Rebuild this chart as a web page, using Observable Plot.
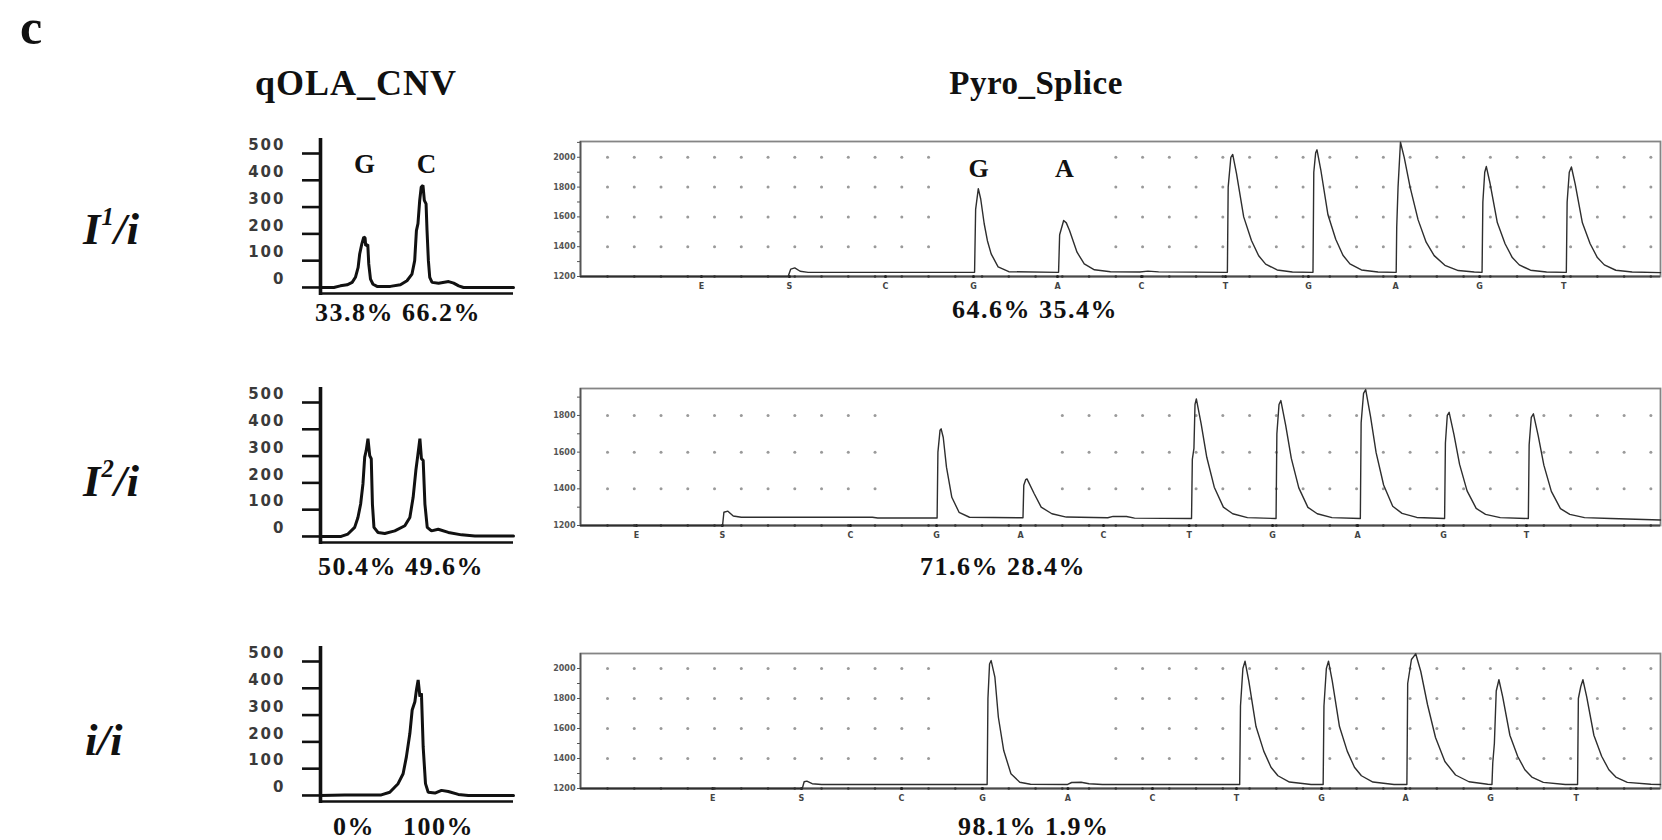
<!DOCTYPE html>
<html>
<head>
<meta charset="utf-8">
<script src="https://cdn.jsdelivr.net/npm/d3@7"></script>
<script src="https://cdn.jsdelivr.net/npm/@observablehq/plot@0.6"></script>
<style>
  html, body { margin: 0; padding: 0; background: #fff; }
  #fig { position: relative; width: 1662px; height: 840px; overflow: hidden; background: #fff;
         font-family: "Liberation Serif", "Times New Roman", serif; color: #111; }
  .abs { position: absolute; white-space: nowrap; line-height: 1; font-weight: bold; }
  .title { letter-spacing: 1px; transform: translateX(-50%); }
  .rowlab { font-size: 45px; font-style: italic; }
  .rowlab .sup { font-size: 0.55em; position: relative; top: -0.75em; margin-left: 1px; }
  .pct { font-size: 26px; letter-spacing: 1.5px; white-space: pre; }
  svg.qola text { letter-spacing: 2px; }
  svg.qola text.peaklab, svg.pyro text { letter-spacing: 0; }
</style>
</head>
<body>
<div id="fig"></div>
<script>
// ---------------- data ----------------
const panelLetter = "c";
const titles = ["qOLA_CNV", "Pyro_Splice"];
const genotypes = [["I", "1", "/i"], ["I", "2", "/i"], ["i", "", "/i"]];

// qOLA_CNV (capillary peaks), x = relative migration (0-100), y = signal
const qolaTicks = [0, 100, 200, 300, 400, 500];
const qolaYDomain = [-30, 556];
const qolaPeakLabels = [{base: "G", x: 23.3}, {base: "C", x: 55.4}];
const qolaTrace1 = [[0,0],[6.9,0],[10.3,6],[13.8,10],[16.4,19],[18.1,38],[19.5,75],[20.3,125],[21.4,162],[22.4,188],[23.1,185],[23.4,156],[24.5,160],[25,88],[25.9,31],[27.2,12],[29.3,4],[36.2,4],[41.4,10],[44.8,25],[47.4,50],[48.8,100],[49.7,212],[50.5,238],[51.4,325],[52.2,375],[53.1,381],[53.8,325],[54.7,312],[55.2,212],[55.9,100],[56.6,38],[57.8,19],[61.2,16],[66.4,22],[69,16],[71.6,6],[74.1,0],[100,0]];
const qolaTrace2 = [[0,0],[10.7,0],[14.2,9],[17.7,34],[19.4,71],[20.8,121],[22,196],[22.9,296],[23.7,321],[24.6,365],[25.5,302],[26.3,290],[26.9,121],[27.7,34],[29.8,15],[33.3,11],[38.5,21],[43.7,40],[46.3,71],[48,146],[49.4,246],[50.3,296],[51.5,365],[52.3,290],[53.2,284],[54.1,121],[55.3,34],[57.5,21],[61,27],[66.2,15],[73.1,6],[80,2],[100,2]];
const qolaTrace3 = [[0,0],[12.5,2],[31.5,2],[35.9,12],[40.2,44],[42.8,81],[44.5,144],[46.3,231],[47.5,319],[48.9,350],[49.7,394],[50.6,431],[51.5,369],[52.3,381],[53.2,181],[54.4,44],[55.8,12],[59.3,9],[62.7,19],[66.2,15],[71.4,4],[76.6,0],[100,0]];
const qolaPct = [["33.8%", "66.2%"], ["50.4%", "49.6%"], ["0%", "100%"]];

// Pyro_Splice (pyrograms), x = run time in grid steps, y = light signal
const pyroXDomain = [-1.01, 39.36];
const pyroDisp = ["E", "S", "C", "G", "A", "C", "T", "G", "A", "G", "T"];
const pyroDispPos1 = [3.51, 6.80, 10.39, 13.68, 16.82, 19.96, 23.10, 26.20, 29.46, 32.60, 35.74];
const pyroDispPos2 = [1.08, 4.29, 9.08, 12.30, 15.44, 18.54, 21.74, 24.86, 28.04, 31.25, 34.35];
const pyroDispPos3 = [3.93, 7.25, 10.99, 14.02, 17.21, 20.37, 23.51, 26.69, 29.83, 33.01, 36.21];
const pyroYTicks1 = [1200, 1400, 1600, 1800, 2000];
const pyroYTicks2 = [1200, 1400, 1600, 1800];
const pyroYTicks3 = [1200, 1400, 1600, 1800, 2000];
const pyroYMax = [2106, 1947, 2100];
const pyroGridGap = [[13, 18], [11, 16], [13, 18]];
const pyroPeakLabels = [{base: "G", x: 13.87}, {base: "A", x: 17.08}];
const pyroTrace1 = [[-1.01,1200],[6.75,1200],[6.85,1250],[7.0,1258],[7.2,1235],[7.5,1228],[13.72,1228],
 [13.76,1650],[13.86,1790],[13.95,1720],[14.08,1554],[14.2,1440],[14.34,1352],[14.6,1265],[15.0,1232],[16.86,1228],
 [16.9,1480],[17.05,1576],[17.15,1560],[17.27,1509],[17.55,1363],[17.82,1285],[18.2,1245],[18.8,1232],[19.9,1230],[20.2,1236],[20.6,1231],[23.17,1228],
 [23.2,1800],[23.3,2000],[23.37,2019],[23.51,1892],[23.78,1600],[24.07,1442],[24.34,1339],[24.6,1283],[25.03,1244],[25.6,1230],[26.37,1228],
 [26.4,1900],[26.47,2030],[26.52,2050],[26.66,1918],[26.93,1614],[27.22,1450],[27.49,1343],[27.75,1285],[28.18,1244],[28.8,1230],[29.48,1228],
 [29.5,1530],[29.55,1800],[29.64,2101],[29.78,2000],[30.0,1800],[30.3,1580],[30.6,1430],[30.9,1340],[31.3,1275],[31.8,1240],[32.4,1230],[32.69,1228],
 [32.72,1700],[32.79,1900],[32.85,1938],[32.99,1824],[33.26,1562],[33.55,1420],[33.82,1327],[34.08,1278],[34.5,1242],[35.1,1230],[35.84,1228],
 [35.87,1700],[35.95,1900],[36.03,1935],[36.17,1822],[36.44,1560],[36.73,1420],[37.0,1327],[37.26,1278],[37.69,1242],[38.3,1230],[39.36,1226]];
const pyroTrace2 = [[-1.01,1200],[4.3,1200],[4.35,1272],[4.5,1278],[4.7,1252],[5.0,1245],[9.9,1245],[10.1,1241],[12.32,1241],
 [12.35,1600],[12.43,1720],[12.47,1727],[12.55,1680],[12.67,1518],[12.87,1354],[13.14,1272],[13.53,1245],[15.53,1242],
 [15.56,1420],[15.63,1450],[15.68,1454],[15.95,1373],[16.21,1300],[16.61,1264],[17.15,1246],[18.7,1242],[18.9,1250],[19.4,1249],[19.7,1240],[21.83,1238],
 [21.86,1560],[21.92,1620],[21.96,1860],[22.01,1890],[22.19,1754],[22.4,1572],[22.68,1409],[23.02,1300],[23.37,1264],[23.92,1243],[24.99,1238],
 [25.02,1700],[25.1,1860],[25.17,1881],[25.35,1746],[25.56,1566],[25.84,1405],[26.18,1299],[26.53,1264],[27.08,1243],[28.14,1238],
 [28.17,1760],[28.26,1920],[28.34,1941],[28.52,1795],[28.73,1597],[29.01,1421],[29.35,1305],[29.7,1266],[30.25,1244],[31.29,1238],
 [31.32,1650],[31.39,1800],[31.46,1817],[31.64,1695],[31.85,1533],[32.13,1389],[32.47,1293],[32.82,1261],[33.37,1243],[34.42,1238],
 [34.45,1640],[34.53,1790],[34.61,1809],[34.79,1689],[35.0,1529],[35.28,1386],[35.62,1292],[35.97,1261],[36.52,1243],[37.5,1238],[39.36,1230]];
const pyroTrace3 = [[-1.01,1200],[7.28,1200],[7.35,1245],[7.45,1249],[7.65,1232],[8.0,1227],[14.19,1227],
 [14.22,1800],[14.28,2030],[14.34,2053],[14.48,1942],[14.61,1675],[14.81,1453],[15.08,1298],[15.41,1242],[15.81,1228],[17.2,1227],[17.35,1240],[17.7,1242],[18.0,1232],[18.5,1227],[23.63,1227],
 [23.66,1750],[23.75,2000],[23.83,2049],[23.97,1917],[24.24,1613],[24.53,1449],[24.8,1342],[25.06,1285],[25.49,1243],[26.3,1227],[26.75,1227],
 [26.78,1750],[26.87,2000],[26.95,2049],[27.09,1917],[27.36,1613],[27.65,1449],[27.92,1342],[28.18,1285],[28.61,1243],[29.4,1227],[29.88,1227],
 [29.91,1900],[30.05,2060],[30.21,2098],[30.4,1980],[30.65,1760],[30.95,1540],[31.3,1380],[31.7,1290],[32.2,1245],[32.9,1228],[33.06,1227],
 [33.09,1370],[33.15,1500],[33.22,1850],[33.32,1925],[33.46,1813],[33.73,1555],[34.02,1415],[34.29,1325],[34.55,1276],[34.98,1241],[35.8,1227],[36.26,1227],
 [36.29,1800],[36.38,1880],[36.46,1925],[36.6,1813],[36.87,1555],[37.16,1415],[37.43,1325],[37.69,1276],[38.12,1241],[39.0,1228],[39.36,1227]];
const pyroPct = [["64.6%", "35.4%"], ["71.6%", "28.4%"], ["98.1%", "1.9%"]];

// ---------------- layout ----------------
const fig = document.getElementById("fig");
function addDiv(cls, html, left, top, extra) {
  const d = document.createElement("div");
  d.className = "abs " + cls;
  d.innerHTML = html;
  d.style.left = left + "px";
  d.style.top = top + "px";
  if (extra) Object.assign(d.style, extra);
  fig.appendChild(d);
  return d;
}
function place(svg, left, top) {
  svg.style.position = "absolute";
  svg.style.left = left + "px";
  svg.style.top = top + "px";
  svg.style.maxWidth = "none";
  fig.appendChild(svg);
}

addDiv("", panelLetter, 20, 2, {fontSize: "50px"});
addDiv("title", titles[0], 356, 65, {fontSize: "36px"});
addDiv("title", titles[1], 1036, 67, {fontSize: "33px", letterSpacing: "0.5px"});

const rowLabelTop = [207, 459, 718];
genotypes.forEach((g, i) => {
  const sup = g[1] ? `<span class="sup">${g[1]}</span>` : "";
  addDiv("rowlab", `${g[0]}${sup}${g[2]}`, i === 2 ? 85 : 83, rowLabelTop[i]);
});

// qOLA panels
const qolaTraces = [qolaTrace1, qolaTrace2, qolaTrace3];
const qolaFrameTop = [138, 387, 646];
const QW = 193, QH = 157, QML = 90, QMR = 6, QMT = 2, QMB = 2;
qolaTraces.forEach((trace, i) => {
  const marks = [
    Plot.axisY(qolaTicks, {tickSize: 18, stroke: "#111", strokeWidth: 2.6, fill: "none", label: null}),
    Plot.axisY(qolaTicks, {tickSize: 0, tickPadding: 35, dy: -8, fill: "#3a3a3a", fontSize: 15,
      fontWeight: "bold", fontFamily: "DejaVu Sans", label: null, tickFormat: d => String(d)}),
    Plot.ruleX([0], {stroke: "#111", strokeWidth: 3.6}),
    Plot.ruleY([qolaYDomain[0]], {dy: -2, stroke: "#111", strokeWidth: 2.6}),
    Plot.line(trace, {x: d => d[0], y: d => d[1], stroke: "#111", strokeWidth: 3, strokeLinejoin: "miter"})
  ];
  if (i === 0) {
    marks.push(Plot.text(qolaPeakLabels, {x: "x", text: "base", frameAnchor: "top", dy: 15,
      fontSize: 27, fontWeight: "bold", fontFamily: "Liberation Serif", fill: "#111", className: "peaklab"}));
  }
  const svg = Plot.plot({
    width: QML + QW + QMR, height: QMT + QH + QMB,
    marginLeft: QML, marginRight: QMR, marginTop: QMT, marginBottom: QMB,
    style: {background: "transparent", overflow: "visible", fontFamily: "DejaVu Sans"},
    x: {domain: [0, 100], axis: null},
    y: {domain: qolaYDomain},
    marks
  });
  svg.classList.add("qola");
  place(svg, 320 - QML, qolaFrameTop[i] - QMT);
});

// Pyro panels
const pyroTraces = [pyroTrace1, pyroTrace2, pyroTrace3];
const pyroDispPos = [pyroDispPos1, pyroDispPos2, pyroDispPos3];
const pyroYTicks = [pyroYTicks1, pyroYTicks2, pyroYTicks3];
const pyroFrame = [[141, 276], [388, 525], [653, 788]];
const PML = 40, PMR = 2, PMT = 4, PMB = 24, PW = 1080;
const gridCols = d3.range(0, 40);
pyroTraces.forEach((trace, i) => {
  const [t, b] = pyroFrame[i];
  const ticks = pyroYTicks[i];
  const minorTicks = d3.range(ticks[0], pyroYMax[i], 100);
  const cols = gridCols.filter(n => n < pyroGridGap[i][0] || n > pyroGridGap[i][1]);
  const gridPts = cols.flatMap(n => ticks.slice(1).map(v => ({x: n, y: v})));
  const disp = pyroDisp.map((s, k) => ({s, x: pyroDispPos[i][k]}));
  const marks = [
    Plot.dot(gridPts, {x: "x", y: "y", r: 1.5, fill: "#9a9a9a", stroke: "none"}),
    Plot.frame({stroke: "#858585", strokeWidth: 1.8}),
    Plot.axisY(minorTicks, {tickSize: 3, stroke: "#555", strokeWidth: 1, fill: "none", label: null}),
    Plot.axisY(ticks, {tickSize: 0, tickPadding: 5, fill: "#555", fontSize: 8, fontWeight: "bold",
      label: null, tickFormat: d => String(d)}),
    Plot.ruleY([ticks[0]], {stroke: "#4a4a4a", strokeWidth: 1.8}),
    Plot.ruleX([pyroXDomain[0]], {stroke: "#555", strokeWidth: 1.6}),
    Plot.dot(gridCols, {x: d => d, y: () => ticks[0], r: 1.3, fill: "#333", stroke: "none"}),
    Plot.dot(disp, {x: "x", y: () => ticks[0], r: 1.5, fill: "#222", stroke: "none"}),
    Plot.text(disp, {x: "x", text: "s", frameAnchor: "bottom", dy: 12, fontSize: 8, fill: "#444", fontWeight: "bold"}),
    Plot.line(trace, {x: d => d[0], y: d => d[1], stroke: "#2e2e2e", strokeWidth: 1.4})
  ];
  if (i === 0) {
    marks.push(Plot.text(pyroPeakLabels, {x: "x", text: "base", frameAnchor: "top", dy: 17,
      fontSize: 26, fontWeight: "bold", fontFamily: "Liberation Serif", fill: "#111"}));
  }
  const svg = Plot.plot({
    width: PML + PW + PMR, height: PMT + (b - t) + PMB,
    marginLeft: PML, marginRight: PMR, marginTop: PMT, marginBottom: PMB,
    style: {background: "transparent", overflow: "visible", fontFamily: "DejaVu Sans"},
    x: {domain: pyroXDomain, axis: null},
    y: {domain: [ticks[0], pyroYMax[i]]},
    marks
  });
  svg.classList.add("pyro");
  place(svg, 580 - PML, t - PMT);
});

// percentage labels under each panel
const qolaPctMid = [313, 567, 827];
addDiv("pct", qolaPct[0].join(" "), 315, qolaPctMid[0] - 13);
addDiv("pct", qolaPct[1].join(" "), 318, qolaPctMid[1] - 13);
addDiv("pct", qolaPct[2][0], 333, qolaPctMid[2] - 13);
addDiv("pct", qolaPct[2][1], 403, qolaPctMid[2] - 13);
const pyroPctLeft = [952, 920, 958];
const pyroPctMid = [310, 567, 827];
pyroPct.forEach((p, i) => addDiv("pct", p.join(" "), pyroPctLeft[i], pyroPctMid[i] - 13));
</script>
</body>
</html>
